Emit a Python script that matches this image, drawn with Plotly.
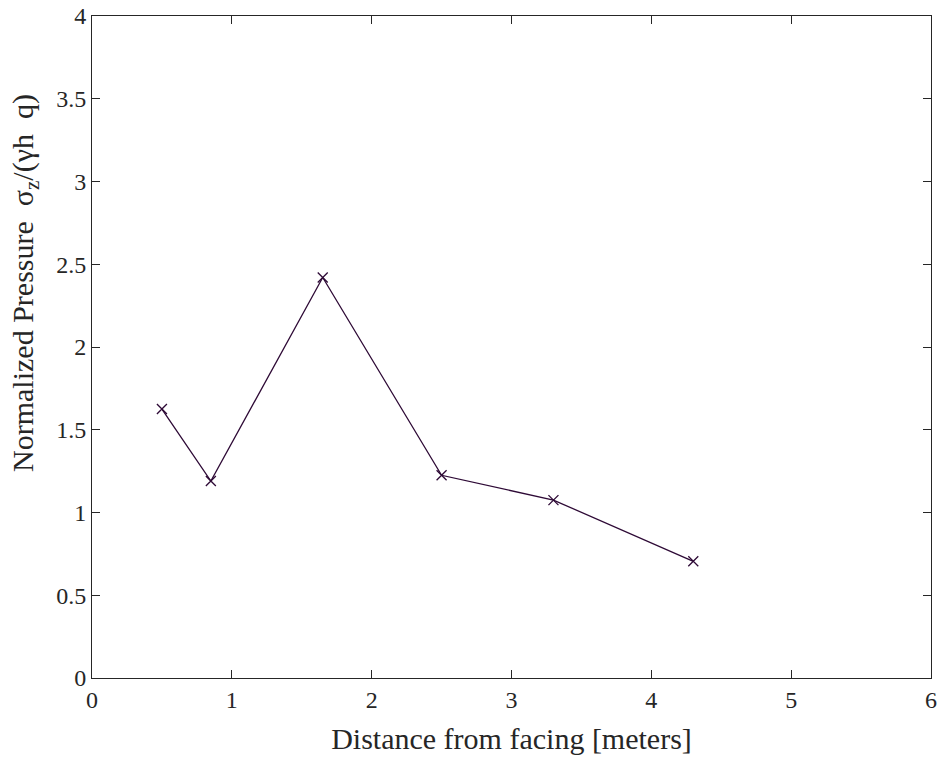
import plotly.graph_objects as go

x_dist = [0.5, 0.85, 1.65, 2.5, 3.3, 4.3]
y_press = [1.625, 1.19, 2.42, 1.225, 1.075, 0.705]

x_ticks = [0, 1, 2, 3, 4, 5, 6]
y_ticks = [0, 0.5, 1, 1.5, 2, 2.5, 3, 3.5, 4]
y_tick_labels = ["0", "0.5", "1", "1.5", "2", "2.5", "3", "3.5", "4"]

x_title = "Distance from facing [meters]"
y_title = "Normalized Pressure  σ<sub>z</sub>/(γh  q)"

line_color = "#2e0a36"
axis_color = "#262626"
font_family = "Liberation Serif"

fig = go.Figure()
fig.add_trace(go.Scatter(
    x=x_dist, y=y_press, mode="lines+markers",
    line=dict(color=line_color, width=1.3),
    marker=dict(symbol="x-thin", size=10, line=dict(color=line_color, width=1.3)),
    showlegend=False, cliponaxis=False,
))

axis_common = dict(
    showgrid=False, zeroline=False, showline=True, linecolor=axis_color, linewidth=1,
    mirror="ticks", ticks="inside", ticklen=8, tickwidth=1, tickcolor=axis_color,
    tickfont=dict(family=font_family, size=24, color=axis_color), automargin=False,
)

fig.update_layout(
    width=940, height=762,
    margin=dict(l=92, r=9, t=16, b=84),
    paper_bgcolor="white", plot_bgcolor="white",
    font=dict(family=font_family, color=axis_color),
    xaxis=dict(range=[0, 6], tickvals=x_ticks,
               title=dict(text=x_title, font=dict(size=30, family=font_family, color=axis_color), standoff=16),
               **axis_common),
    yaxis=dict(range=[0, 4], tickvals=y_ticks, ticktext=y_tick_labels, **axis_common),
    annotations=[dict(
        text=y_title, textangle=-90, xref="paper", yref="paper",
        x=-0.0799, y=0.5967, xanchor="center", yanchor="middle", showarrow=False,
        font=dict(size=30, family=font_family, color=axis_color),
    )],
)

fig.write_html("out.html")
